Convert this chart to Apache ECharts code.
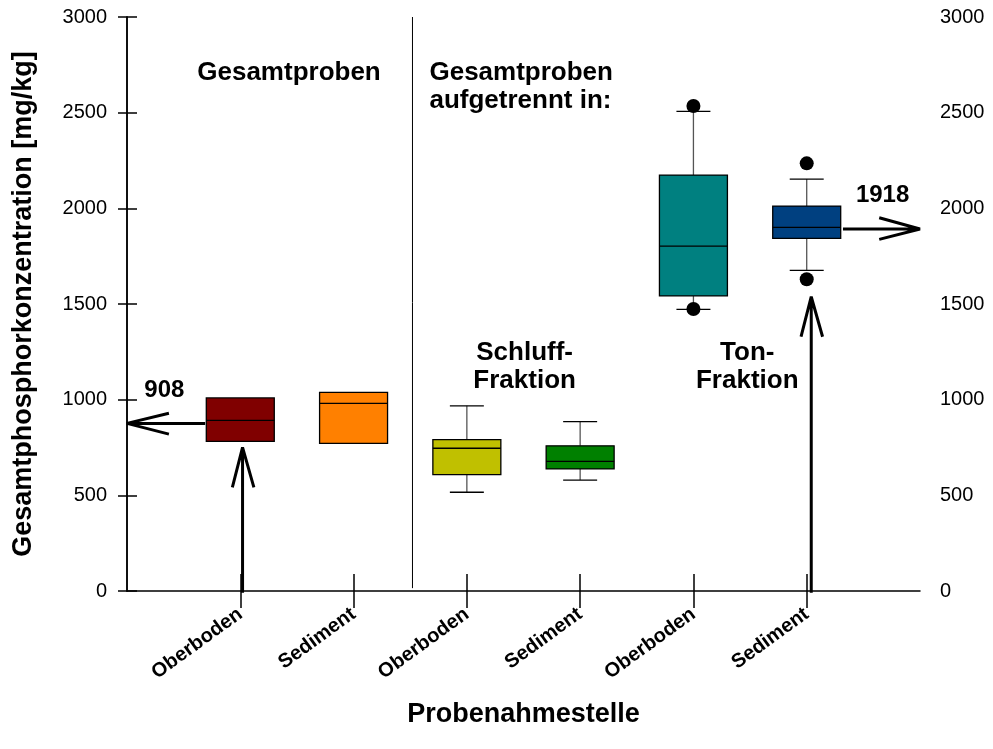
<!DOCTYPE html>
<html>
<head>
<meta charset="utf-8">
<script src="https://cdn.jsdelivr.net/npm/echarts@6/dist/echarts.min.js"></script>
<style>html,body{margin:0;padding:0;background:#fff}#c{width:993px;height:749px}</style>
</head>
<body>
<div id="c"></div>
<script>
// ---- data ----
const categories = ['Oberboden', 'Sediment', 'Oberboden', 'Sediment', 'Oberboden', 'Sediment'];
const positions = [1, 2, 3, 4, 5, 6];
// [min, Q1, median, Q3, max]
const boxStats = [
  [782, 782, 892, 1009, 1009],
  [772, 772, 981, 1038, 1038],
  [516, 608, 746, 791, 968],
  [580, 638, 678, 759, 885],
  [1472, 1542, 1803, 2174, 2507],
  [1676, 1843, 1901, 2012, 2153]
];
const boxColors = ['#800000', '#FF8000', '#C0C000', '#008000', '#008080', '#004080'];
const outliers = [[5, 2535], [5, 1474], [6, 2235], [6, 1629]];
const yTicks = [0, 500, 1000, 1500, 2000, 2500, 3000];
// annotation arrows: tail, tip, head end 1, tip, head end 2
const arrowOberboden = [[0.69, 876], [0, 876], [0.37, 929], [0, 876], [0.37, 820]];
const arrowUp1 = [[1.02, -9], [1.02, 751], [0.93, 542], [1.02, 751], [1.12, 542]];
const arrowTon = [[6.32, 1892], [7, 1892], [6.64, 1951], [7, 1892], [6.64, 1838]];
const arrowUp2 = [[6.04, -9], [6.04, 1538], [5.95, 1329], [6.04, 1538], [6.14, 1329]];
const divider = [[2.52, 3000], [2.52, 15]];
const annotations = [
  {pos: [1.43, 2707], text: 'Gesamtproben', align: 'center', size: 26},
  {pos: [2.67, 2637], text: 'Gesamtproben\naufgetrennt in:', align: 'left', size: 26},
  {pos: [3.51, 1171], text: 'Schluff-\nFraktion', align: 'center', size: 26},
  {pos: [5.475, 1171], text: 'Ton-\nFraktion', align: 'center', size: 26},
  {pos: [0.33, 1050], text: '908', align: 'center', size: 24},
  {pos: [6.67, 2070], text: '1918', align: 'center', size: 24}
];

const FONT = 'Liberation Sans, Arial, Helvetica, sans-serif';
const chart = echarts.init(document.getElementById('c'), null, {renderer: 'canvas'});

function arrowSeries(d) {
  return {type: 'line', data: d, symbol: 'none', clip: false, silent: true, z: 5,
    lineStyle: {color: '#000', width: 3}};
}

function renderBox(params, api) {
  const x = api.value(0);
  const vals = [1, 2, 3, 4, 5].map(i => api.value(i));
  const p = vals.map(v => api.coord([x, v]));
  const cx = p[0][0];
  const bw = api.size([1, 0])[0] * 0.6;
  const half = bw / 2, capHalf = bw / 4;
  const color = boxColors[params.dataIndex];
  const kids = [];
  const stem = {stroke: '#555', lineWidth: 1.3};
  const cap = {stroke: '#000', lineWidth: 1.3};
  if (vals[4] > vals[3]) {
    kids.push({type: 'line', shape: {x1: cx, y1: p[3][1], x2: cx, y2: p[4][1]}, style: stem});
    kids.push({type: 'line', shape: {x1: cx - capHalf, y1: p[4][1], x2: cx + capHalf, y2: p[4][1]}, style: cap});
  }
  if (vals[0] < vals[1]) {
    kids.push({type: 'line', shape: {x1: cx, y1: p[1][1], x2: cx, y2: p[0][1]}, style: stem});
    kids.push({type: 'line', shape: {x1: cx - capHalf, y1: p[0][1], x2: cx + capHalf, y2: p[0][1]}, style: cap});
  }
  kids.push({type: 'rect', shape: {x: cx - half, y: p[3][1], width: bw, height: p[1][1] - p[3][1]},
    style: {fill: color, stroke: '#000', lineWidth: 1.3}});
  kids.push({type: 'line', shape: {x1: cx - half, y1: p[2][1], x2: cx + half, y2: p[2][1]},
    style: {stroke: '#000', lineWidth: 1.3}});
  return {type: 'group', children: kids};
}

const option = {
  animation: false,
  backgroundColor: '#fff',
  grid: {left: 127, right: 73, top: 17, bottom: 158},
  xAxis: [
    {type: 'value', min: 0, max: 7, interval: 1,
     name: 'Probenahmestelle', nameLocation: 'middle', nameGap: 110,
     nameTextStyle: {fontFamily: FONT, fontWeight: 'bold', fontSize: 27, color: '#000'},
     axisLine: {show: true, lineStyle: {color: '#000', width: 1.5}},
     axisTick: {show: true, length: 17, customValues: positions, lineStyle: {color: '#000', width: 1.5}},
     splitLine: {show: false},
     axisLabel: {customValues: positions, rotate: 36, fontFamily: FONT, fontWeight: 'bold', fontSize: 20, color: '#000', margin: 21,
       formatter: v => categories[v - 1] || ''}},
    {type: 'value', min: 0, max: 7, interval: 1, position: 'bottom',
     axisLine: {show: false}, splitLine: {show: false}, axisLabel: {show: false},
     axisTick: {show: true, inside: true, length: 17, customValues: positions, lineStyle: {color: '#000', width: 1.5}}}
  ],
  yAxis: [
    {type: 'value', min: 0, max: 3000, interval: 500, position: 'left',
     name: 'Gesamtphosphorkonzentration [mg/kg]', nameLocation: 'middle', nameGap: 90,
     nameTextStyle: {fontFamily: FONT, fontWeight: 'bold', fontSize: 27, color: '#000'},
     axisLine: {show: true, lineStyle: {color: '#000', width: 1.5}},
     axisTick: {show: true, length: 9, lineStyle: {color: '#000', width: 1.5}},
     splitLine: {show: false},
     axisLabel: {fontFamily: FONT, fontSize: 20, color: '#000', margin: 20,
       customValues: yTicks, formatter: v => String(v)}},
    {type: 'value', min: 0, max: 3000, interval: 500, position: 'right',
     axisLine: {show: true, lineStyle: {color: '#000', width: 1.5}},
     axisTick: {show: true, length: 10, lineStyle: {color: '#000', width: 1.5}},
     splitLine: {show: false},
     axisLabel: {fontFamily: FONT, fontSize: 20, color: '#000', margin: 20,
       customValues: yTicks, formatter: v => String(v)}}
  ],
  series: [
    {type: 'custom', renderItem: renderBox, z: 3, clip: false,
     encode: {x: 0, y: [1, 2, 3, 4, 5]},
     data: boxStats.map((s, i) => [positions[i]].concat(s))},
    {type: 'scatter', data: outliers, symbol: 'circle', symbolSize: 14, z: 4,
     itemStyle: {color: '#000', opacity: 1}},
    {type: 'line', data: divider, symbol: 'none', clip: false, silent: true,
     lineStyle: {color: '#000', width: 1}},
    arrowSeries(arrowOberboden),
    arrowSeries(arrowUp1),
    arrowSeries(arrowTon),
    arrowSeries(arrowUp2),
    {type: 'scatter', symbolSize: 0, silent: true, z: 6,
     itemStyle: {opacity: 1},
     data: annotations.map(a => ({value: a.pos,
       label: {show: true, position: 'inside', formatter: a.text, align: a.align,
         verticalAlign: 'middle', fontFamily: FONT, fontWeight: 'bold', fontSize: a.size,
         lineHeight: 28, color: '#000', opacity: 1}}))}
  ]
};
chart.setOption(option);
</script>
</body>
</html>
